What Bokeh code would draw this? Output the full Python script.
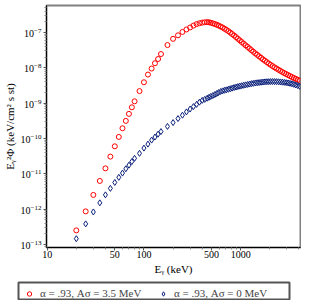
from bokeh.plotting import figure
from bokeh.models import (FixedTicker, LogTickFormatter, PrintfTickFormatter,
                          Legend, LegendItem, Range1d, ColumnDataSource)
from bokeh.embed import file_html
from bokeh.resources import INLINE

# photon energy grid (keV)
energy = [20, 25, 30, 35, 40, 45, 50, 55, 60, 65, 70, 75, 80, 90, 100, 110, 120, 130,
          140, 150, 175, 200, 225, 250, 275, 300, 325, 350, 375, 400, 425,
          450, 470, 490, 515, 540, 565, 590, 620, 650, 680, 710, 745, 780, 815, 855,
          895, 935, 980, 1025, 1075, 1125, 1180, 1235, 1290, 1350, 1415, 1480, 1550,
          1625, 1700, 1780, 1865, 1950, 2040, 2140, 2240, 2345, 2455, 2570, 2690,
          2820, 2950, 3090, 3235, 3385, 3545, 3710, 3885, 4070]

# alpha = .93, A_sigma = 3.5 MeV
flux_a35 = [2.51e-13, 8.66e-13, 2.53e-12, 6.30e-12, 1.43e-11, 3.07e-11, 6.01e-11,
            1.11e-10, 1.95e-10, 3.15e-10, 4.98e-10, 7.65e-10, 1.13e-9, 2.20e-9,
            3.91e-9, 6.46e-9, 9.55e-9, 1.35e-8, 1.78e-8, 2.46e-8, 4.42e-8, 6.63e-8,
            8.33e-8, 1.04e-7, 1.22e-7, 1.39e-7, 1.57e-7, 1.73e-7, 1.83e-7, 1.91e-7,
            1.95e-7,
            1.97e-7, 1.945e-7, 1.895e-7, 1.822e-7, 1.741e-7, 1.663e-7, 1.579e-7,
            1.479e-7, 1.386e-7, 1.281e-7, 1.193e-7, 1.096e-7, 1.0e-7, 9.07e-8,
            8.22e-8, 7.41e-8, 6.67e-8, 6.01e-8, 5.38e-8, 4.82e-8, 4.34e-8, 3.91e-8,
            3.52e-8, 3.17e-8, 2.86e-8, 2.57e-8, 2.34e-8, 2.12e-8, 1.92e-8, 1.74e-8,
            1.59e-8, 1.45e-8, 1.32e-8, 1.22e-8, 1.12e-8, 1.03e-8, 9.55e-9, 8.83e-9,
            8.22e-9, 7.65e-9, 7.12e-9, 6.67e-9, 6.25e-9, 5.86e-9, 5.49e-9, 5.17e-9,
            4.88e-9, 4.60e-9, 4.34e-9]

# alpha = .93, A_sigma = 0 MeV
flux_a0 = [1.46e-13, 3.83e-13, 8.33e-13, 1.51e-12, 2.54e-12, 3.88e-12, 5.71e-12,
           7.96e-12, 1.05e-11, 1.39e-11, 1.76e-11, 2.22e-11, 2.75e-11, 3.81e-11,
           5.35e-11, 6.94e-11, 9.01e-11, 1.10e-10, 1.33e-10, 1.57e-10, 2.20e-10,
           2.82e-10, 3.66e-10, 4.57e-10, 5.67e-10, 6.81e-10, 8.01e-10, 9.25e-10,
           1.07e-9, 1.20e-9, 1.28e-9,
           1.38e-9, 1.46e-9, 1.548e-9, 1.641e-9, 1.752e-9, 1.871e-9, 1.997e-9,
           2.131e-9, 2.23e-9, 2.32e-9, 2.381e-9, 2.476e-9, 2.558e-9, 2.660e-9,
           2.766e-9, 2.858e-9, 2.953e-9, 3.031e-9, 3.131e-9, 3.214e-9, 3.299e-9,
           3.386e-9, 3.475e-9, 3.567e-9, 3.638e-9, 3.734e-9, 3.783e-9, 3.833e-9,
           3.909e-9, 3.960e-9, 4.012e-9, 4.038e-9, 4.065e-9, 4.091e-9, 4.091e-9,
           4.091e-9, 4.065e-9, 4.038e-9, 3.987e-9, 3.935e-9, 3.883e-9, 3.808e-9,
           3.734e-9, 3.638e-9, 3.545e-9, 3.408e-9, 3.277e-9, 3.151e-9, 3.011e-9]

series_labels = ["α = .93, Aσ = 3.5 MeV", "α = .93, Aσ = 0 MeV"]
x_major = [10, 50, 100, 500, 1000]
x_minor = [20, 30, 40, 60, 70, 80, 90, 200, 300, 400, 600, 700, 800, 900,
           2000, 3000, 4000]
y_major = [1e-13, 1e-12, 1e-11, 1e-10, 1e-9, 1e-8, 1e-7]

FONT = "Liberation Serif"
RED = "#ff0000"
NAVY = "#0a1f7a"

p = figure(width=301, height=280, x_axis_type="log", y_axis_type="log",
           x_range=Range1d(9.84, 4150), y_range=Range1d(8.22e-14, 5.82e-7),
           output_backend="svg", toolbar_location=None,
           min_border_left=36, min_border_right=1, min_border_top=5,
           min_border_bottom=33)
p.grid.visible = False
p.outline_line_color = "#808080"
p.outline_line_width = 2
p.background_fill_color = "white"
p.border_fill_color = "white"

src = ColumnDataSource(dict(e=energy, a35=flux_a35, a0=flux_a0))
r1 = p.scatter("e", "a35", source=src, marker="circle", size=5,
               fill_color=None, line_color=RED, line_width=1)
r2 = p.scatter("e", "a0", source=src, marker="diamond", size=6,
               fill_color=None, line_color=NAVY, line_width=1)

minor_y = [k * d for d in [1e-14, 1e-13, 1e-12, 1e-11, 1e-10, 1e-9, 1e-8, 1e-7]
           for k in range(2, 10)]
p.yaxis.ticker = FixedTicker(ticks=y_major, minor_ticks=minor_y)
p.yaxis.formatter = LogTickFormatter()
p.xaxis.ticker = FixedTicker(ticks=x_major, minor_ticks=x_minor)
p.xaxis.formatter = PrintfTickFormatter(format="%d")

for ax in (p.xaxis[0], p.yaxis[0]):
    ax.axis_line_color = "black"
    ax.axis_line_width = 1
    ax.major_tick_in = 0
    ax.major_tick_out = 3
    ax.minor_tick_in = 0
    ax.minor_tick_out = 2
    ax.major_tick_line_color = "#555555"
    ax.minor_tick_line_color = "#888888"
    ax.major_label_text_font = FONT
    ax.major_label_text_font_size = "10px"
    ax.major_label_text_color = "black"
    ax.axis_label_text_font = FONT
    ax.axis_label_text_font_size = "11px"
    ax.axis_label_text_font_style = "normal"
    ax.axis_label_text_color = "black"
    ax.major_label_standoff = 2
    ax.axis_label_standoff = 2

p.xaxis.major_label_standoff = 0
p.xaxis.axis_label = "Eᵧ (keV)"
p.yaxis.axis_label = "Eᵧ²Φ (keV/cm² s st)"

# legend strip below the chart (separate root so its frame is not aligned to p);
# its frame outline is the legend box, its hidden renderers only feed the keys
q = figure(width=301, height=20, output_backend="svg", toolbar_location=None,
           x_axis_type="log", y_axis_type="log",
           x_range=Range1d(9.84, 4150), y_range=Range1d(8.22e-14, 5.82e-7),
           x_axis_location=None, y_axis_location=None,
           min_border_left=18, min_border_right=12, min_border_top=2,
           min_border_bottom=1)
q.grid.visible = False
q.outline_line_color = "#555555"
q.outline_line_width = 2
q.background_fill_color = "white"
q.border_fill_color = "white"
k1 = q.scatter("e", "a35", source=src, marker="circle", size=5,
               fill_color=None, line_color=RED, line_width=1, visible=False)
k2 = q.scatter("e", "a0", source=src, marker="diamond", size=6,
               fill_color=None, line_color=NAVY, line_width=1, visible=False)

legend = Legend(items=[LegendItem(label=series_labels[0], renderers=[k1]),
                       LegendItem(label=series_labels[1], renderers=[k2])],
                orientation="horizontal", location=(0, 0), margin=0,
                padding=2, spacing=3, glyph_width=22, glyph_height=11,
                label_standoff=0, label_width=109, label_height=11,
                label_text_font=FONT, label_text_font_size="11px",
                border_line_color=None,
                background_fill_color="white", background_fill_alpha=0.0,
                inactive_fill_alpha=0.0)
q.add_layout(legend)

open("out.html", "w").write(file_html([p, q], INLINE))
